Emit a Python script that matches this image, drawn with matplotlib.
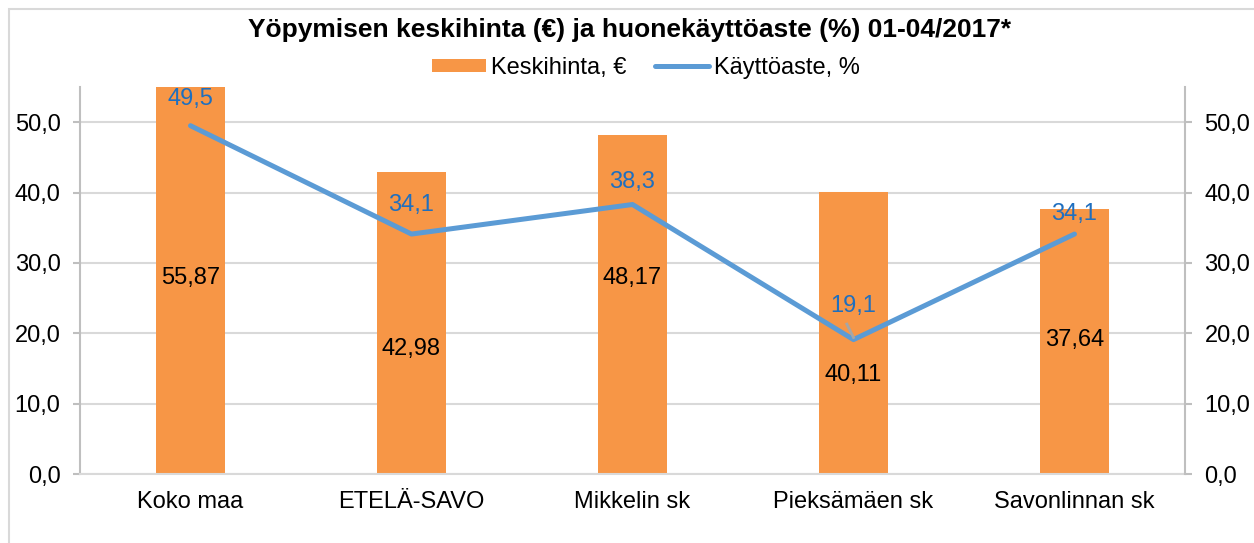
import matplotlib
matplotlib.use("Agg")
import matplotlib.pyplot as plt
import numpy as np

plt.rcParams["font.family"] = ["Liberation Sans", "DejaVu Sans"]

categories = ["Koko maa", "ETELÄ-SAVO", "Mikkelin sk", "Pieksämäen sk", "Savonlinnan sk"]
price = [55.87, 42.98, 48.17, 40.11, 37.64]
occupancy = [49.5, 34.1, 38.3, 19.1, 34.1]
price_labels = ["55,87", "42,98", "48,17", "40,11", "37,64"]
occ_labels = ["49,5", "34,1", "38,3", "19,1", "34,1"]
yticks = [0, 10, 20, 30, 40, 50]

# label positions (data units) as placed in the original
price_label_y = [27.9, 17.7, 27.9, 14.1, 19.1]
occ_label_y = [53.3, 38.3, 41.5, 23.9, 36.9]

ORANGE = "#F79646"
BLUE = "#5B9BD5"
BLUE_TXT = "#1F6FBF"
GRID = "#D9D9D9"
AX = "#BFBFBF"
FS = 17

fig = plt.figure(figsize=(12.54, 5.43), dpi=100)
fig.patches.append(plt.Rectangle((9/1254, -0.1), 1.2, 1.1 - 9/543,
                                 transform=fig.transFigure, fill=False,
                                 edgecolor=GRID, lw=1.5))
ax = fig.add_axes([80/1254, 1 - 474/543, 1105/1254, 387/543])
x = np.arange(len(categories))

bars = ax.bar(x, price, width=0.315, color=ORANGE, zorder=2, label="Keskihinta, €")
line, = ax.plot(x, occupancy, color=BLUE, lw=3.6, solid_capstyle="round", zorder=3,
                label="Käyttöaste, %")

for xi, s, yl in zip(x, price_labels, price_label_y):
    ax.text(xi, yl, s, ha="center", va="center", fontsize=FS, color="black", zorder=4)
for xi, s, yl in zip(x, occ_labels, occ_label_y):
    ax.text(xi, yl, s, ha="center", va="center", fontsize=FS, color=BLUE_TXT, zorder=4)
# leader line for the Pieksämäki label
ax.plot([x[3] - 0.03, x[3]], [occ_label_y[3] - 2.6, occupancy[3] + 0.3],
        color="#A6A6A6", lw=2, zorder=3)

ax.set_xlim(-0.5, len(categories) - 0.5)
ax.set_ylim(0, 55)
ax.set_yticks(yticks)
ax.set_yticklabels([f"{v:.1f}".replace(".", ",") for v in yticks], fontsize=FS)
ax.set_xticks(x)
ax.set_xticklabels(categories, fontsize=FS)
ax.tick_params(axis="x", length=0, pad=12)
ax.tick_params(axis="y", length=5, width=1.5, color=AX, pad=9)
ax.grid(axis="y", color=GRID, lw=1.5, zorder=0)
for side in ["top", "right"]:
    ax.spines[side].set_visible(False)
ax.spines["left"].set_color(AX)
ax.spines["bottom"].set_color(GRID)
ax.spines["left"].set_linewidth(1.5)
ax.spines["bottom"].set_linewidth(1.5)

ax2 = ax.twinx()
ax2.set_ylim(0, 55)
ax2.set_yticks(yticks)
ax2.set_yticklabels([f"{v:.1f}".replace(".", ",") for v in yticks], fontsize=FS)
ax2.tick_params(axis="y", length=5, width=1.5, color=AX, pad=9)
for side in ["top", "left", "bottom"]:
    ax2.spines[side].set_visible(False)
ax2.spines["right"].set_color(AX)
ax2.spines["right"].set_linewidth(1.5)

fig.text(630/1254, 1 - 30/543, "Yöpymisen keskihinta (€) ja huonekäyttöaste (%) 01-04/2017*",
         ha="center", va="center", fontsize=19, fontweight="bold")
fig.legend([bars, line], ["Keskihinta, €", "Käyttöaste, %"], loc="center",
           bbox_to_anchor=(646/1254, 1 - 68/543), ncol=2, frameon=False, fontsize=FS,
           handlelength=2.3, handleheight=0.5, columnspacing=1.2, handletextpad=0.2,
           borderpad=0)

fig.savefig("out.png", dpi=100)
